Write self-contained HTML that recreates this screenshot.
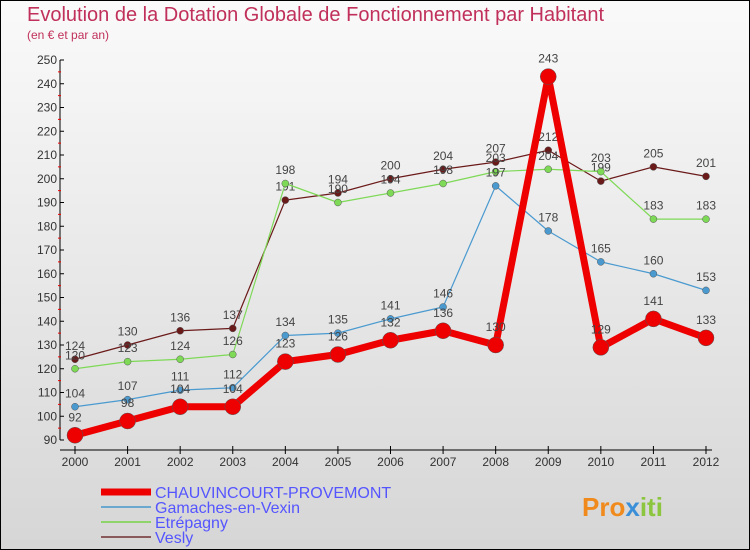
<!DOCTYPE html>
<html><head><meta charset="utf-8"><style>
body{margin:0}
#c{width:750px;height:550px;position:relative;box-sizing:border-box;border:1px solid #000;background:linear-gradient(#fafafa,#d6d6d6);font-family:"Liberation Sans",sans-serif;overflow:hidden}
</style></head><body>
<div id="c">
<svg id="s" width="750" height="550" style="position:absolute;left:-1px;top:-1px">
<text x="27" y="21" font-size="20" fill="#c0305a">Evolution de la Dotation Globale de Fonctionnement par Habitant</text>
<text x="27" y="39" font-size="12" fill="#c0305a">(en € et par an)</text>
<g id="axes"></g><g id="series"></g><g id="legend"></g>
<text x="582" y="516" font-size="26" font-weight="bold"><tspan fill="#f08a1c">Pro</tspan><tspan fill="#3a8fd8">x</tspan><tspan fill="#8cc63f">iti</tspan></text>
</svg>
</div>
<script>
const years=[2000,2001,2002,2003,2004,2005,2006,2007,2008,2009,2010,2011,2012];
const yTicks=[90,100,110,120,130,140,150,160,170,180,190,200,210,220,230,240,250];
const chauv=[92,98,104,104,123,126,132,136,130,243,129,141,133];
const gamaches=[104,107,111,112,134,135,141,146,197,178,165,160,153];
const etrepagny=[120,123,124,126,198,190,194,198,203,204,203,183,183];
const vesly=[124,130,136,137,191,194,200,204,207,212,199,205,201];
const NS='http://www.w3.org/2000/svg';
const X=i=>75+i*(706-75)/12;
const Y=v=>440-(v-90)*2.375;
function mk(t,a,p){const e=document.createElementNS(NS,t);for(const k in a)e.setAttribute(k,a[k]);p.appendChild(e);return e;}
const ax=document.getElementById('axes');
let l=mk('line',{x1:60,y1:Y(250),x2:60,y2:Y(90),stroke:'#000'},ax);


l=mk('line',{x1:60,y1:450,x2:712,y2:450,stroke:'#000'},ax);


yTicks.forEach((v,i)=>{
 mk('line',{x1:60,y1:Y(v),x2:64,y2:Y(v),stroke:'#000'},ax);
 if(i<yTicks.length-1)mk('line',{x1:58,y1:Y(v+5),x2:61,y2:Y(v+5),stroke:'#e00'},ax);
 const t=mk('text',{x:57,y:Y(v)+4,'font-size':12,fill:'#333','text-anchor':'end'},ax);t.textContent=v;
 
 
});
years.forEach((y,i)=>{
 mk('line',{x1:X(i),y1:446,x2:X(i),y2:454,stroke:'#000'},ax);
 const t=mk('text',{x:X(i),y:466,'font-size':12,fill:'#333','text-anchor':'middle'},ax);t.textContent=y;
 
 
});
const sg=document.getElementById('series');
const defs=[[vesly,'#6b1a1a',1.2,3.5,'vesly'],[etrepagny,'#7ed957',1.2,3.5,'etrepagny'],[gamaches,'#4a9ad0',1.2,3.5,'gamaches'],[chauv,'#ee0000',7,8,'chauvincourt']];
defs.forEach(([d,c,w,r,n])=>{
 const p=mk('polyline',{points:d.map((v,i)=>X(i)+','+Y(v)).join(' '),fill:'none',stroke:c,'stroke-width':w,'stroke-linejoin':'round'},sg);
 
 
 d.forEach((v,i)=>{
  const ci=mk('circle',{cx:X(i),cy:Y(v),r:r,fill:c,stroke:'#555','stroke-width':0.5},sg);
  
  
  const t=mk('text',{x:X(i),y:Y(v)-(r+6),'font-size':12,fill:'#444','text-anchor':'middle'},sg);t.textContent=v;
  
  
 });
});
const lg=document.getElementById('legend');
[['CHAUVINCOURT-PROVEMONT','#ee0000',7],['Gamaches-en-Vexin','#6aa8d0',2],['Etrépagny','#8fd46a',2],['Vesly','#8a5a5a',2]].forEach(([n,c,w],i)=>{
 const y=492+i*15;
 const ln=mk('line',{x1:101,y1:y,x2:151,y2:y,stroke:c,'stroke-width':w},lg);
 
 
 const t=mk('text',{x:155,y:y+6,'font-size':16,fill:'#5555ff'},lg);t.textContent=n;
 
 
});
</script>
</body></html>
